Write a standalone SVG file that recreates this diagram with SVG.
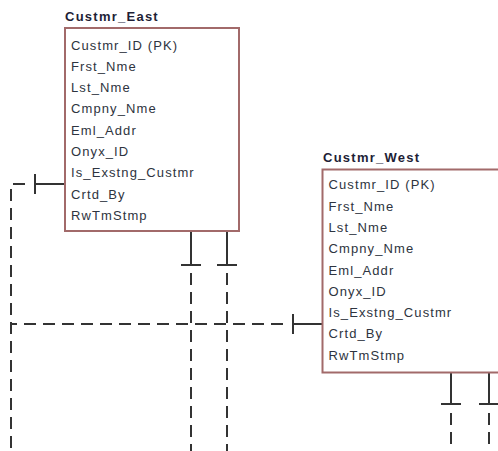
<svg xmlns="http://www.w3.org/2000/svg" width="498" height="451" viewBox="0 0 498 451">
<style>
.box{fill:#fff;stroke:#a26a6a;stroke-width:2}
.title{font-family:"Liberation Sans",Arial,sans-serif;font-size:13px;font-weight:bold;fill:#1e1e36;letter-spacing:1.25px}
.fld{font-family:"Liberation Sans",Arial,sans-serif;font-size:13px;fill:#2e3440;letter-spacing:1.1px}
.solid{fill:none;stroke:#333;stroke-width:2}
.dash{fill:none;stroke:#333;stroke-width:2;stroke-dasharray:12 7}
</style>
<rect width="498" height="451" fill="#fff"/>
<g id="connectors">
<path class="solid" d="M65,184 H35 M35,174 V194"/>
<path class="dash" d="M25,184 H11 V451"/>
<path class="dash" d="M283,324 H11"/>
<path class="solid" d="M322,324 H293 M293,314 V334"/>
<path class="solid" d="M191,231 V265 M181,265 H201"/>
<path class="dash" d="M191,273 V451"/>
<path class="solid" d="M227,231 V265 M217,265 H237"/>
<path class="dash" d="M227,273 V451"/>
<path class="solid" d="M451,373 V404 M441,404 H461"/>
<path class="dash" d="M451,413 V451"/>
<path class="solid" d="M489,373 V404 M479,404 H499"/>
<path class="dash" d="M489,413 V451"/>
</g>
<g id="Custmr_East">
<text class="title" x="65" y="21">Custmr_East</text>
<rect class="box" x="65" y="28" width="174" height="203"/>
<text class="fld" x="71" y="49.5">Custmr_ID (PK)</text>
<text class="fld" x="71" y="70.8">Frst_Nme</text>
<text class="fld" x="71" y="92.1">Lst_Nme</text>
<text class="fld" x="71" y="113.4">Cmpny_Nme</text>
<text class="fld" x="71" y="134.7">Eml_Addr</text>
<text class="fld" x="71" y="156">Onyx_ID</text>
<text class="fld" x="71" y="177.3">Is_Exstng_Custmr</text>
<text class="fld" x="71" y="198.6">Crtd_By</text>
<text class="fld" x="71" y="219.9">RwTmStmp</text>
</g>
<g id="Custmr_West">
<text class="title" x="323" y="162">Custmr_West</text>
<rect class="box" x="322.5" y="169.5" width="200" height="203"/>
<text class="fld" x="328.5" y="189.3">Custmr_ID (PK)</text>
<text class="fld" x="328.5" y="210.6">Frst_Nme</text>
<text class="fld" x="328.5" y="231.9">Lst_Nme</text>
<text class="fld" x="328.5" y="253.2">Cmpny_Nme</text>
<text class="fld" x="328.5" y="274.5">Eml_Addr</text>
<text class="fld" x="328.5" y="295.8">Onyx_ID</text>
<text class="fld" x="328.5" y="317.1">Is_Exstng_Custmr</text>
<text class="fld" x="328.5" y="338.4">Crtd_By</text>
<text class="fld" x="328.5" y="359.7">RwTmStmp</text>
</g>
</svg>
